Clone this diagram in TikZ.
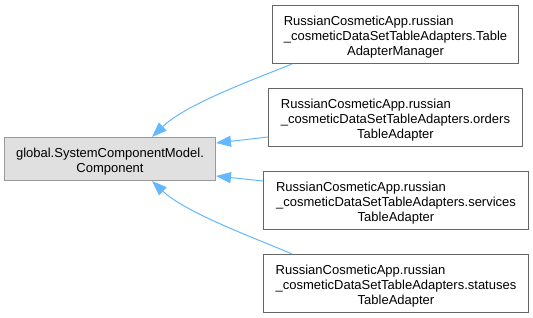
\documentclass[tikz,border=0pt]{standalone}
\usepackage{fontspec}
\setmainfont{Liberation Sans}
\usetikzlibrary{arrows.meta,calc}

\definecolor{inhblue}{HTML}{63B8FF}
\definecolor{clsborder}{HTML}{666666}
\definecolor{baseborder}{HTML}{999999}
\definecolor{basefill}{HTML}{E0E0E0}

% Class labels: leading lines left aligned, last line centred,
% set slightly below the geometric centre of the box.
\newcommand\twolines[2]{\raisebox{-3pt}[\height][\depth]{%
  \begin{tabular}{@{}l@{}}#1\\\multicolumn{1}{@{}c@{}}{#2}\end{tabular}}}
\newcommand\threelines[3]{\raisebox{-3pt}[\height][\depth]{%
  \begin{tabular}{@{}l@{}}#1\\#2\\\multicolumn{1}{@{}c@{}}{#3}\end{tabular}}}

\begin{document}
\begin{tikzpicture}[x=1pt,y=-1pt,
  every node/.style={font=\fontsize{13}{15}\selectfont},
  cls/.style={draw=clsborder, fill=white, line width=1pt, inner sep=0pt,
    anchor=north west, minimum height=58},
  basecls/.style={cls, draw=baseborder, fill=basefill, minimum height=43},
  inh/.style={draw=inhblue, line width=1pt,
    {Triangle[length=15pt,width=11pt]}-},
]
\useasboundingbox (0,0) rectangle (533,317);

% base class
\node[basecls, minimum width=211] (base) at (4,137)
  {\twolines{global.SystemComponentModel.}{Component}};

% derived classes
\node[cls, minimum width=246] (mgr) at (272,5)
  {\threelines{RussianCosmeticApp.russian}{\_cosmeticDataSetTableAdapters.Table}{AdapterManager}};
\node[cls, minimum width=254] (orders) at (268,88)
  {\threelines{RussianCosmeticApp.russian}{\_cosmeticDataSetTableAdapters.orders}{TableAdapter}};
\node[cls, minimum width=265] (services) at (263,171)
  {\threelines{RussianCosmeticApp.russian}{\_cosmeticDataSetTableAdapters.services}{TableAdapter}};
\node[cls, minimum width=265] (statuses) at (263,254)
  {\threelines{RussianCosmeticApp.russian}{\_cosmeticDataSetTableAdapters.statuses}{TableAdapter}};

% inheritance arrows (head at the base class)
\draw[inh] ($(base.north west)+(148,0)$) .. controls (186,104) and (255,79) .. ($(mgr.south west)+(20,0)$);
\draw[inh] ($(base.north east)+(0,6)$) -- ($(orders.south west)+(0,-10)$);
\draw[inh] ($(base.south east)+(0,-5)$) -- ($(services.north west)+(0,10)$);
\draw[inh] ($(base.south west)+(148,0)$) .. controls (186,213) and (255,238) .. ($(statuses.north west)+(29,0)$);
\end{tikzpicture}
\end{document}
